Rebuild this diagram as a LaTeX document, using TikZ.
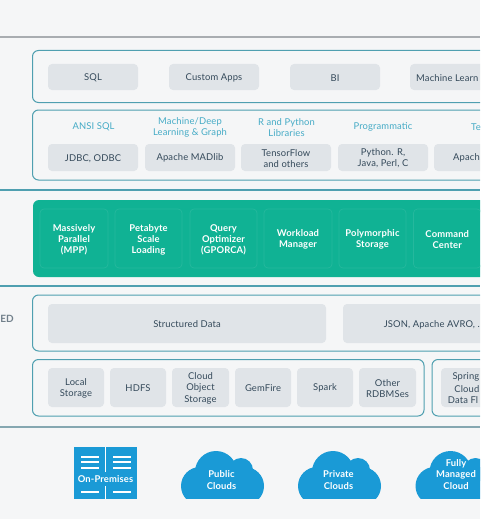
\documentclass[tikz,border=0pt]{standalone}
\usepackage{fontspec}
\setmainfont{Lato}[LetterSpace=1.5]
\definecolor{bgc}{HTML}{F5F6F7}
\definecolor{tealline}{HTML}{4F9FB0}
\definecolor{grayline}{HTML}{A9ADB1}
\definecolor{greenc}{HTML}{10B294}
\definecolor{greenl}{HTML}{25B89D}
\definecolor{bluec}{HTML}{1A9AD6}
\definecolor{boxc}{HTML}{E0E4E8}
\definecolor{textc}{HTML}{34495A}
\definecolor{labelc}{HTML}{45ABC6}
\tikzset{
  x=1pt,y=-1pt,
  rule/.style={line width=1.4pt},
  outer/.style={draw=tealline,line width=1pt,rounded corners=6pt,fill=bgc},
  gbox/.style={fill=boxc,rounded corners=4pt},
  txt/.style={text=textc,font=\fontsize{9.4}{11.3}\selectfont,align=center,inner sep=0pt,yshift=-0.8pt},
  lab/.style={text=labelc,font=\fontsize{9.4}{11.3}\selectfont,align=center,inner sep=0pt,yshift=-0.5pt},
  gtile/.style={draw=greenl,line width=.7pt,rounded corners=4pt},
  gtxt/.style={text=white,font=\fontsize{9.4}{11.3}\selectfont\bfseries,align=center,inner sep=0pt,yshift=-1.2pt},
  wbar/.style={fill=white,draw=none},
  cloudtxt/.style={text=white,font=\fontsize{9.4}{11.3}\selectfont\bfseries,align=center,inner sep=0pt},
}
\newcommand{\gb}[7]{% name x1 y1 x2 y2 text style
  \fill[gbox] (#2,#3) rectangle (#4,#5);
  \node[txt] (#1) at ({(#2+#4)/2},{(#3+#5)/2}) {#6};}
\newcommand{\gr}[4]{% name x1 x2 text
  \draw[gtile] (#2,209) rectangle (#3,268);
  \node[gtxt] (#1) at ({(#2+#3)/2},238.5) {#4};}
\newcommand{\cloudshape}[1]{%
  \begin{scope}
    \clip (#1-50,440) rectangle (#1+50,498);
    \fill[bluec] (#1-6.5,472) circle[radius=21];
    \fill[bluec] (#1+18.5,470) circle[radius=12];
    \fill[bluec] (#1-22.5,486) circle[radius=19];
    \fill[bluec] (#1+22.5,486) circle[radius=19];
    \fill[bluec] (#1-22.5,475) rectangle (#1+22.5,510);
  \end{scope}}
\begin{document}
\begin{tikzpicture}
\useasboundingbox (0,0) rectangle (480,519);
\clip (0,0) rectangle (480,519);
\fill[bgc] (0,0) rectangle (480,519);
% rules
\draw[rule,grayline] (0,37) -- (480,37);
\draw[rule,tealline] (0,190) -- (480,190);
\draw[rule,tealline] (0,286) -- (480,286);
\draw[rule,grayline!60!tealline] (0,427) -- (480,427);
% outer frames
\draw[outer] (32.5,50.5) rectangle (500,102.5);
\draw[outer] (32.5,110) rectangle (500,180);
\draw[outer] (32.5,295) rectangle (500,351);
\draw[outer] (32.5,359.5) rectangle (424,416);
\draw[outer] (432,359.5) rectangle (500,416);
% row 1
\gb{sql}{48}{64}{138}{90}{SQL}{}
\gb{capps}{169}{64}{259}{90}{Custom Apps}{}
\gb{bi}{290}{64}{380}{90}{BI}{}
\fill[gbox] (410,64) rectangle (500,90);
\node[txt,anchor=west] (ml) at (416,77) {Machine Learn};
% row 2 labels
\node[lab] (l1) at (93.5,126.5) {ANSI SQL};
\node[lab] (l2) at (190,127) {Machine/Deep\\Learning \& Graph};
\node[lab] (l3) at (286.5,127) {R and Python\\Libraries};
\node[lab] (l4) at (383,126.5) {Programmatic};
\node[lab,anchor=west] (l5) at (471,126.5) {Te};
% row 2
\gb{jdbc}{48}{144}{138}{171}{JDBC, ODBC}{}
\gb{madlib}{145}{144}{235}{171}{Apache MADlib}{}
\gb{tf}{241}{144}{331}{171}{TensorFlow\\and others}{}
\gb{py}{338}{144}{428}{171}{Python. R,\\Java, Perl, C}{}
\fill[gbox] (434,144) rectangle (500,171);
\node[txt,anchor=west] (apa) at (453,157.5) {Apach};
% green band
\fill[greenc,rounded corners=6pt] (33,200) rectangle (500,277);
\gr{mpp}{40}{108}{Massively\\Parallel\\(MPP)}
\gr{pet}{115}{182}{Petabyte\\Scale\\Loading}
\gr{qo}{190}{257}{Query\\Optimizer\\(GPORCA)}
\gr{wm}{264}{332}{Workload\\Manager}
\gr{ps}{339}{406}{Polymorphic\\Storage}
\gr{cc}{413.5}{481}{Command\\Center}
% data
\node[text=textc!70!white,font=\fontsize{10}{11}\selectfont\bfseries,anchor=east,inner sep=0pt] (ed) at (14,318.5) {ED};
\gb{sd}{48}{304}{326}{343}{Structured Data}{}
\fill[gbox] (343,304) rectangle (500,343);
\node[txt,anchor=east] (json) at (480,324) {JSON, Apache AVRO, .};
% storage
\gb{ls}{48}{368}{104}{407}{Local\\Storage}{}
\gb{hdfs}{110}{368}{166}{407}{HDFS}{}
\gb{cos}{172}{368}{229}{407}{Cloud\\Object\\Storage}{}
\gb{gf}{235}{368}{291}{407}{GemFire}{}
\gb{sp}{297}{368}{353}{407}{Spark}{}
\gb{rd}{359}{368}{416}{407}{Other\\RDBMSes}{}
\fill[gbox] (441,368) rectangle (500,407);
\node[txt,anchor=east] (sc1) at (479.5,376.5) {Spring};
\node[txt,anchor=east] (sc2) at (479.5,388) {Cloud};
\node[txt,anchor=west] (sc3) at (447.7,399.5) {Data Fl};
% on-premises
\fill[bluec] (74,446.5) rectangle (137,499);
\fill[wbar] (105,446.5) rectangle (106.2,472);
\fill[wbar] (105,486) rectangle (106.2,499);
\foreach \yy in {455.7,461,466.7}{
  \fill[wbar] (81,\yy) rectangle (98.5,\yy+2);
  \fill[wbar] (113,\yy) rectangle (130.5,\yy+2);
}
\fill[wbar] (81,490.5) rectangle (98.5,493);
\fill[wbar] (113,490.5) rectangle (130.5,493);
\node[cloudtxt] (onp) at (105.5,479) {On-Premises};
% clouds
\cloudshape{222.5}
\node[cloudtxt] (pub) at (221.5,480) {Public\\Clouds};
\cloudshape{339.5}
\node[cloudtxt] (pri) at (338.5,480) {Private\\Clouds};
\cloudshape{457}
\node[cloudtxt] (full) at (456,474.5) {Fully\\Managed\\Cloud};
\end{tikzpicture}
\end{document}
